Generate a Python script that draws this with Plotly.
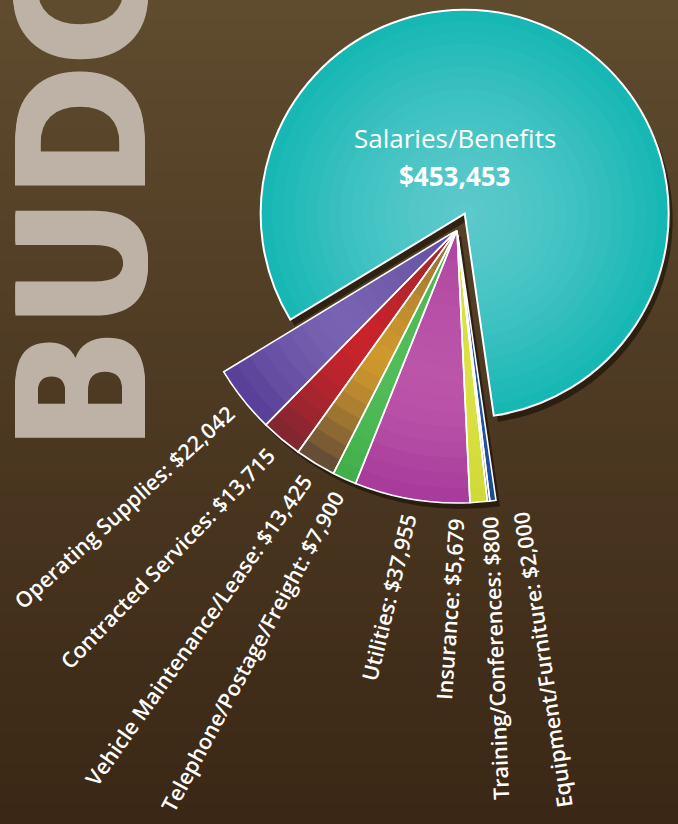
import math
import numpy as np
import plotly.graph_objects as go

# ---------------- data ----------------
categories = ["Salaries/Benefits", "Operating Supplies", "Contracted Services",
              "Vehicle Maintenance/Lease", "Telephone/Postage/Freight", "Utilities",
              "Insurance", "Training/Conferences", "Equipment/Furniture"]
amounts = [453453, 22042, 13715, 13425, 7900, 37955, 5679, 800, 2000]
# slice shading: highlight colour and rim colour
inner_colors = ["#5cc9cb", "#7763b1", "#c8232b", "#cf982d", "#52bd58", "#bb55a9",
                "#dbe142", "#44504f", "#2456a3"]
outer_colors = ["#14b7b3", "#573c96", "#7b2731", "#5c4536", "#40ae4a", "#a6389a",
                "#cfd936", "#333e42", "#1b4892"]
title_text = "BUDGET"

# ---------------- layout constants ----------------
W, H = 678, 824
CX, CY = 457, 230          # apex of the small slices (px)
R_SMALL = 273              # radius of small slices (px)
R_BIG = 204                # radius of the big slice (px)
PULL = 18                  # big slice pull-out (px)
START = 211.3              # math angle where the first small slice begins
PAD = 1.02                 # radial range padding
SHADOW = (4, 6)            # shadow offset (px)
NBANDS = 18                # shading bands
HILITE_R = 0.55            # radius of the highlight on the small slices

vals = np.array(amounts, dtype=float)
span = vals / vals.sum() * 360.0
small_span = span[1:]
edges = START + np.concatenate([[0.0], np.cumsum(small_span)])
small_mid = (edges[:-1] + edges[1:]) / 2.0
big_mid = edges[-1] + span[0] / 2.0


def hex2rgb(h):
    h = h.lstrip("#")
    return np.array([int(h[i:i + 2], 16) for i in (0, 2, 4)], dtype=float)


def mix(c0, c1, t):
    t = min(max(t, 0.0), 1.0)
    c = hex2rgb(c0) * (1 - t) + hex2rgb(c1) * t
    c = c.round().astype(int)
    return f"rgb({c[0]},{c[1]},{c[2]})"


def sector_bbox(a0, a1):
    pts = [(0.0, 0.0),
           (math.cos(math.radians(a0)), math.sin(math.radians(a0))),
           (math.cos(math.radians(a1)), math.sin(math.radians(a1)))]
    for k in range(-720, 721, 90):
        if a0 <= k <= a1:
            pts.append((math.cos(math.radians(k)), math.sin(math.radians(k))))
    xs = [p[0] for p in pts]
    ys = [p[1] for p in pts]
    return min(xs), min(ys), max(xs), max(ys)


def polar_domain(cx, cy, r, sector):
    x0, y0, x1, y1 = sector_bbox(*sector)
    left, right = cx + r * x0, cx + r * x1
    top, bottom = cy - r * y1, cy - r * y0
    return dict(x=[max(0, left / W), min(1, right / W)],
                y=[max(0, 1 - bottom / H), min(1, 1 - top / H)])


def polar_style(domain, sector):
    return dict(domain=domain, sector=list(sector), bgcolor="rgba(0,0,0,0)",
                barmode="overlay",
                radialaxis=dict(visible=False, range=[0, PAD], showgrid=False),
                angularaxis=dict(visible=False, showgrid=False, direction="counterclockwise",
                                 rotation=0, thetaunit="degrees"))


big_cx = CX + PULL * math.cos(math.radians(big_mid))
big_cy = CY - PULL * math.sin(math.radians(big_mid))
sector_small = (edges[0] - 10, edges[-1] + 10)
sector_big = (0, 360)

fig = go.Figure()
shadow_col = "rgba(18,10,2,0.55)"

# shadows (drawn first, underneath)
fig.add_trace(go.Barpolar(
    r=[1.0], theta=[big_mid], width=[span[0]],
    marker=dict(color=shadow_col, line=dict(width=0)),
    hoverinfo="skip", subplot="polar", showlegend=False))
fig.add_trace(go.Barpolar(
    r=[1.0], theta=[(edges[0] + edges[-1]) / 2], width=[edges[-1] - edges[0]],
    marker=dict(color=shadow_col, line=dict(width=0)),
    hoverinfo="skip", subplot="polar2", showlegend=False))

band_r = [1 - k / NBANDS for k in range(NBANDS)]              # outer -> inner
band_c = [r - 0.5 / NBANDS for r in band_r]                   # band centre radius

# big slice (shaded bands, then outline)
fig.add_trace(go.Barpolar(
    r=band_r, theta=[big_mid] * NBANDS, width=[span[0]] * NBANDS,
    marker=dict(color=[mix(inner_colors[0], outer_colors[0], rc ** 1.4) for rc in band_c],
                line=dict(width=0)),
    hoverinfo="skip", subplot="polar3", showlegend=False))
fig.add_trace(go.Barpolar(
    r=[1.0], theta=[big_mid], width=[span[0]],
    marker=dict(color="rgba(0,0,0,0)", line=dict(color="white", width=2)),
    hoverinfo="text", hovertext=[f"{categories[0]}: ${amounts[0]:,}"],
    subplot="polar3", showlegend=False))

# small slices (shaded bands, then outlines)
rr, tt, ww, cc = [], [], [], []
for r, rc in zip(band_r, band_c):
    if rc >= HILITE_R:
        t = ((rc - HILITE_R) / (1 - HILITE_R)) ** 1.5
    else:
        t = 0.6 * ((HILITE_R - rc) / HILITE_R) ** 1.5
    for i in range(1, len(amounts)):
        rr.append(r)
        tt.append(small_mid[i - 1])
        ww.append(small_span[i - 1])
        cc.append(mix(inner_colors[i], outer_colors[i], t))
fig.add_trace(go.Barpolar(
    r=rr, theta=tt, width=ww, marker=dict(color=cc, line=dict(width=0)),
    hoverinfo="skip", subplot="polar4", showlegend=False))
fig.add_trace(go.Barpolar(
    r=[1.0] * len(small_mid), theta=list(small_mid), width=list(small_span),
    marker=dict(color="rgba(0,0,0,0)", line=dict(color="white", width=1.6)),
    hoverinfo="text", hovertext=[f"{c}: ${v:,}" for c, v in zip(categories[1:], amounts[1:])],
    subplot="polar4", showlegend=False))

# ---------------- background gradient ----------------
top_col = np.array([0x5f, 0x4b, 0x2e])
bot_col = np.array([0x3a, 0x27, 0x15])
shapes = []
nb = 82
for i in range(nb):
    t = i / (nb - 1)
    c = (top_col * (1 - t) + bot_col * t).round().astype(int)
    shapes.append(dict(type="rect", xref="paper", yref="paper", x0=0, x1=1,
                       y0=1 - (i + 1) / nb - 0.001, y1=1 - i / nb,
                       fillcolor=f"rgb({c[0]},{c[1]},{c[2]})", line=dict(width=0),
                       layer="below"))

# ---------------- labels ----------------
def spread(angles, sep):
    a = [float(v) for v in angles]
    for _ in range(500):
        moved = False
        for i in range(1, len(a)):
            gap = a[i] - a[i - 1]
            if gap < sep - 1e-9:
                d = (sep - gap) / 2
                a[i - 1] -= d
                a[i] += d
                moved = True
        if not moved:
            break
    return a


LAB_FS = 21.5
R_END = 287
TILT = 4
EDGE = 22                   # keep label starts this far from the left edge
box_h = 1.36 * LAB_FS
label_pos = spread(small_mid, 6.2)
annotations = []
for name, val, th in zip(categories[1:], amounts[1:], label_pos):
    text = f"{name}: ${val:,}"
    ex = CX + R_END * math.cos(math.radians(th))
    ey = CY - R_END * math.sin(math.radians(th))
    phi = th - 180 - TILT
    est_len = len(text) * 0.49 * LAB_FS
    ratio = (ex - EDGE) / est_len
    if ratio < 1:
        phi = max(phi, math.degrees(math.acos(ratio)))
    s, c = math.sin(math.radians(phi)), math.cos(math.radians(phi))
    if phi <= 90:
        ax, xa = ex + box_h / 2 * s, "right"
    else:
        ax, xa = ex - box_h / 2 * s, "left"
    ay = ey - box_h / 2 * abs(c)
    annotations.append(dict(
        text=text, xref="paper", yref="paper",
        x=ax / W, y=1 - ay / H, xanchor=xa, yanchor="top",
        textangle=-phi, showarrow=False, borderpad=0,
        font=dict(family="Open Sans, sans-serif", size=LAB_FS, color="white", weight=600)))

# big slice label
annotations.append(dict(text=categories[0], xref="paper", yref="paper",
                        x=(big_cx - 10) / W, y=1 - (big_cy - 76) / H,
                        xanchor="center", yanchor="middle", showarrow=False,
                        font=dict(family="Open Sans, sans-serif", size=26, color="white")))
annotations.append(dict(text=f"${amounts[0]:,}", xref="paper", yref="paper",
                        x=(big_cx - 10) / W, y=1 - (big_cy - 38) / H,
                        xanchor="center", yanchor="middle", showarrow=False,
                        font=dict(family="Open Sans, sans-serif", size=26, color="white", weight=700)))

# big vertical title
BUD_FS = 178
annotations.append(dict(text=title_text, xref="paper", yref="paper",
                        x=(151 + 0.21 * BUD_FS) / W, y=1 - 451 / H,
                        xanchor="right", yanchor="bottom", textangle=-90, showarrow=False,
                        borderpad=0,
                        font=dict(family="Liberation Sans Narrow, DejaVu Sans Condensed, sans-serif",
                                  size=BUD_FS, color="#bdb2a5", weight=700,
                                  shadow="2px 0px 0px #bdb2a5, -2px 0px 0px #bdb2a5")))

sx, sy = SHADOW
fig.update_layout(
    width=W, height=H, margin=dict(l=0, r=0, t=0, b=0),
    paper_bgcolor="#4a3620", plot_bgcolor="rgba(0,0,0,0)",
    showlegend=False, shapes=shapes, annotations=annotations,
    polar=polar_style(polar_domain(big_cx + sx, big_cy + sy, R_BIG * PAD, sector_big), sector_big),
    polar2=polar_style(polar_domain(CX + sx, CY + sy, R_SMALL * PAD, sector_small), sector_small),
    polar3=polar_style(polar_domain(big_cx, big_cy, R_BIG * PAD, sector_big), sector_big),
    polar4=polar_style(polar_domain(CX, CY, R_SMALL * PAD, sector_small), sector_small),
)

fig.write_html("out.html", config={"displayModeBar": False},
               post_script="document.body.style.margin='0px';document.body.style.background='#3a2715';")
